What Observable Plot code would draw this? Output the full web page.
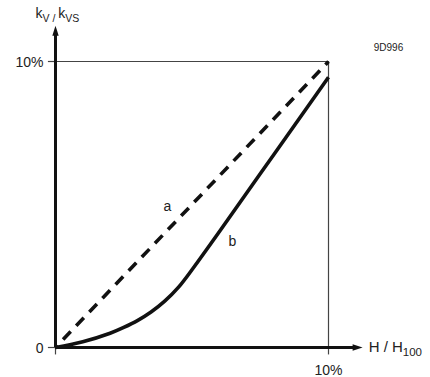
<!DOCTYPE html>
<html><head><meta charset="utf-8">
<script src="https://cdn.jsdelivr.net/npm/d3@7"></script>
<script src="https://cdn.jsdelivr.net/npm/@observablehq/plot@0.6"></script>
<style>body{margin:0;background:#fff} svg{display:block}</style>
</head><body><div id="chart"></div>
<script>
// ---- data ----
const curveBx = [0, 1, 2, 2.5, 3, 3.5, 4, 4.5, 5, 6, 8, 10];
const curveBy = [0, 0.2, 0.5, 0.7, 0.94, 1.24, 1.62, 2.1, 2.72, 4.05, 6.75, 9.45];
const lineAx = [0, 10];
const lineAy = [0, 10];
const yTicks = [0, 10];
const yTickLabels = ["0", "10%"];
const xTicks = [0, 10];
const xTickLabels = ["", "10%"];
const seriesNames = ["a", "b"];
const seriesNameX = [4.1, 6.48];
const seriesNameY = [4.93, 3.71];
const yLabelParts = ["k", "V / ", "k", "VS"];   // normal, subscript, normal, subscript
const xLabelParts = ["H / H", "100"];           // normal, subscript
const figCode = "9D996";
const axisEnd = 11.25;

// ---- build tables ----
const curveB = curveBx.map((x, i) => ({x, y: curveBy[i]}));
const lineA = lineAx.map((x, i) => ({x, y: lineAy[i]}));
const yTickData = yTicks.map((v, i) => ({v, label: yTickLabels[i]}));
const xTickData = xTicks.map((v, i) => ({v, label: xTickLabels[i]}));
const names = seriesNames.map((t, i) => ({t, x: seriesNameX[i], y: seriesNameY[i]}));

const arrowHead = {
  draw(ctx) { ctx.moveTo(0, 0); ctx.lineTo(3.2, 10); ctx.lineTo(-3.2, 10); ctx.closePath(); }
};
const ink = "#111";
const thin = "#444";

const chart = Plot.plot({
  width: 430,
  height: 377,
  x: {domain: [0, 10], range: [55, 328], axis: null},
  y: {domain: [0, 10], range: [347, 61], axis: null},
  style: {fontFamily: "'Liberation Sans', Arial, Helvetica, sans-serif", background: "#fff", color: ink},
  marks: [
    // 10% reference lines
    Plot.ruleY([10], {x1: 0, x2: 10, stroke: thin, strokeWidth: 1.2}),
    Plot.ruleX([10], {y1: 0, y2: 10, stroke: thin, strokeWidth: 1.2}),
    // small ticks
    Plot.ruleY(yTicks, {x1: -0.26, x2: 0, stroke: thin, strokeWidth: 1.2}),
    Plot.ruleX(xTicks, {y1: -0.26, y2: 0, stroke: thin, strokeWidth: 1.2}),
    // dashed line a
    Plot.line(lineA, {x: "x", y: "y", stroke: ink, strokeWidth: 3.6, strokeDasharray: "11,8", strokeDashoffset: 8, strokeLinecap: "butt"}),
    // solid curve b
    Plot.line(curveB, {x: "x", y: "y", stroke: ink, strokeWidth: 3.6, curve: "natural", strokeLinecap: "butt"}),
    // axes
    Plot.ruleX([0], {y1: 0, y2: axisEnd - 0.3, stroke: ink, strokeWidth: 3}),
    Plot.ruleY([0], {x1: 0, x2: axisEnd - 0.3, stroke: ink, strokeWidth: 3}),
    Plot.dot([{x: 0, y: axisEnd}], {x: "x", y: "y", symbol: arrowHead, fill: ink, stroke: "none"}),
    Plot.dot([{x: axisEnd, y: 0}], {x: "x", y: "y", symbol: arrowHead, fill: ink, stroke: "none", rotate: 90}),
    // tick labels
    Plot.text(yTickData, {x: 0, y: "v", text: "label", textAnchor: "end", dx: -12, dy: 1, fontSize: 14, fill: "#222"}),
    Plot.text(xTickData, {x: "v", y: 0, text: "label", dy: 23, fontSize: 14, fill: "#222"}),
    // series names
    Plot.text(names, {x: "x", y: "y", text: "t", fontSize: 14, fill: "#222"}),
    // axis titles
    Plot.text([{x: 0, y: axisEnd}], {x: "x", y: "y", text: () => yLabelParts.join(""), textAnchor: "start", dx: -20, dy: -12, fontSize: 14, fill: "#222"}),
    Plot.text([{x: axisEnd, y: 0}], {x: "x", y: "y", text: () => xLabelParts.join(""), textAnchor: "start", dx: 6, dy: 0, fontSize: 15, fill: "#222"}),
    // figure code
    Plot.text([{x: 10, y: 10}], {x: "x", y: "y", text: () => figCode, textAnchor: "middle", dx: 60, dy: -14, fontSize: 10, fill: "#222"})
  ]
});

// rebuild axis titles with subscripts
function richen(svg, parts, subSize, shift) {
  const full = parts.join("");
  d3.select(svg).selectAll("text").filter(function() { return this.textContent === full; }).each(function() {
    const t = d3.select(this);
    t.text("");
    let cur = 0;
    parts.forEach((p, i) => {
      const sub = i % 2 === 1;
      const target = sub ? shift : 0;
      const ts = t.append("tspan").attr("dy", target - cur).text(p);
      if (sub) ts.attr("font-size", subSize);
      cur = target;
    });
  });
}
richen(chart, yLabelParts, 10.5, 4);
richen(chart, xLabelParts, 11.5, 4);

document.getElementById("chart").append(chart);
</script>
</body></html>
